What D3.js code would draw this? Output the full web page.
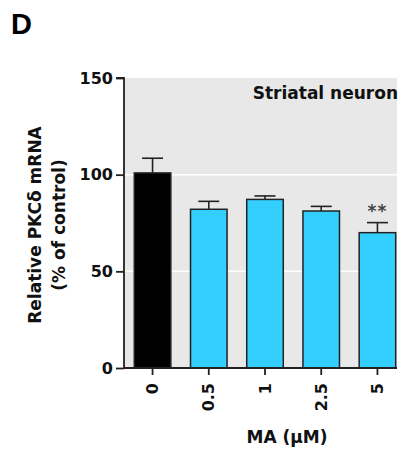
<!DOCTYPE html>
<html><head><meta charset="utf-8">
<script src="https://cdn.jsdelivr.net/npm/d3@7"></script>
<style>body{margin:0;background:#fff}text{font-family:"DejaVu Sans",sans-serif;font-weight:bold}</style>
</head><body>
<svg id="c" width="404" height="453"></svg>
<script>
const categories = ["0", "0.5", "1", "2.5", "5"];
const means = [100.9, 82.1, 87.2, 81.2, 70.0];
const errors = [7.6, 4.1, 1.8, 2.4, 5.2];
const colors = ["#000000", "#33cfff", "#33cfff", "#33cfff", "#33cfff"];
const yTicks = [0, 50, 100, 150];
const sig = ["", "", "", "", "**"];

const FONT = "'DejaVu Sans',sans-serif";
const svg = d3.select("#c");
const x0 = 124, yTop = 78, yBot = 368, bgRight = 397;
const x = d3.scaleBand().domain(categories).range([x0, 406]).paddingInner(0.35).paddingOuter(0.183);
const y = d3.scaleLinear().domain([0, 150]).range([yBot, yTop]);

svg.append("rect").attr("x", x0).attr("y", yTop).attr("width", bgRight - x0).attr("height", yBot - yTop).attr("fill", "#e8e8e8");
svg.selectAll(".grid").data([50, 100]).enter().append("line")
  .attr("x1", x0).attr("x2", bgRight).attr("y1", d => y(d)).attr("y2", d => y(d))
  .attr("stroke", "#fff").attr("stroke-width", 1.5);

// error bars
const eg = svg.append("g").attr("stroke", "#222").attr("stroke-width", 1.6);
categories.forEach((c, i) => {
  const cx = x(c) + x.bandwidth() / 2;
  eg.append("line").attr("x1", cx).attr("x2", cx).attr("y1", y(means[i])).attr("y2", y(means[i] + errors[i]));
  eg.append("line").attr("x1", cx - 10.5).attr("x2", cx + 10.5).attr("y1", y(means[i] + errors[i])).attr("y2", y(means[i] + errors[i]));
});

svg.selectAll(".bar").data(categories).enter().append("rect")
  .attr("x", d => x(d)).attr("width", x.bandwidth())
  .attr("y", (d, i) => y(means[i])).attr("height", (d, i) => yBot - y(means[i]))
  .attr("fill", (d, i) => colors[i]).attr("stroke", "#222").attr("stroke-width", 1.5);

svg.selectAll(".sig").data(categories).enter().append("text")
  .attr("x", d => x(d) + x.bandwidth() / 2).attr("y", (d, i) => y(means[i] + errors[i]) - 6)
  .attr("text-anchor", "middle").attr("font-size", 17).attr("letter-spacing", 1).attr("fill", "#444")
  .text((d, i) => sig[i]);

// y axis
const ya = svg.append("g").attr("transform", `translate(${x0},0)`)
  .call(d3.axisLeft(y).tickValues(yTicks).tickSize(8).tickPadding(3));
ya.select(".domain").attr("stroke", "#222").attr("stroke-width", 1.8).attr("d", `M-8,${yTop}H0V${yBot}`);
ya.selectAll(".tick line").attr("stroke", "#222").attr("stroke-width", 1.8);
ya.selectAll(".tick text").attr("font-size", 16).attr("fill", "#111").style("font-family", FONT).style("font-weight", "bold");

// x axis
const xa = svg.append("g").attr("transform", `translate(0,${yBot})`)
  .call(d3.axisBottom(x).tickSize(7).tickSizeOuter(0));
xa.select(".domain").attr("stroke", "#222").attr("stroke-width", 1.8).attr("d", `M${x0},0H${bgRight}`);
xa.selectAll(".tick line").attr("stroke", "#222").attr("stroke-width", 1.8);
xa.selectAll(".tick text").attr("font-size", 16).attr("fill", "#111")
  .style("font-family", FONT).style("font-weight", "bold")
  .attr("transform", "rotate(-90)").attr("text-anchor", "end").attr("dy", "0.35em").attr("x", -15).attr("y", 0);

svg.append("text").attr("x", 287).attr("y", 443).attr("text-anchor", "middle").attr("font-size", 17)
  .attr("fill", "#111").text("MA (µM)");

svg.append("text").attr("transform", "translate(41,225) rotate(-90)").attr("text-anchor", "middle")
  .attr("font-size", 17).attr("fill", "#111").text("Relative PKCδ mRNA");
svg.append("text").attr("transform", "translate(65,225) rotate(-90)").attr("text-anchor", "middle")
  .attr("font-size", 17).attr("fill", "#111").text("(% of control)");

svg.append("text").attr("x", 398).attr("y", 99).attr("text-anchor", "end").attr("font-size", 17)
  .attr("fill", "#111").text("Striatal neuron");

svg.append("text").attr("x", 11).attr("y", 34).attr("font-size", 29).style("font-family", "Arial,'Liberation Sans',sans-serif").attr("fill", "#000").text("D");
</script>
</body></html>
